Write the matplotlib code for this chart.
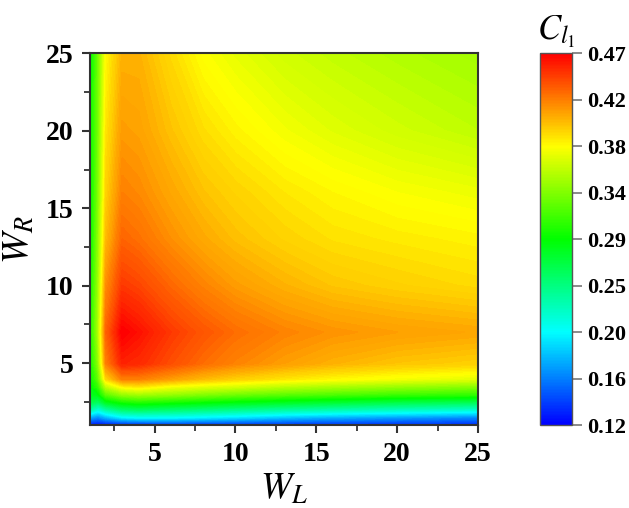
import numpy as np
import matplotlib
matplotlib.use('Agg')
import matplotlib.pyplot as plt
from matplotlib.colors import LinearSegmentedColormap, Normalize
from matplotlib.cm import ScalarMappable

plt.rcParams['font.family'] = 'serif'
plt.rcParams['font.serif'] = ['Liberation Serif', 'DejaVu Serif']
plt.rcParams['mathtext.fontset'] = 'stix'

# grid of widths
WL = [1, 1.5, 2, 3, 4, 6, 8, 10, 13, 16, 20, 25]
WR = [1, 1.5, 2, 2.5, 3, 3.5, 4, 5, 7, 10, 13, 16, 20, 25]

# C_l1 values, one row per W_R (columns follow W_L)
c_wr1   = [0.120, 0.120, 0.120, 0.123, 0.125, 0.127, 0.128, 0.128, 0.129, 0.130, 0.130, 0.130]
c_wr1_5 = [0.175, 0.165, 0.180, 0.200, 0.205, 0.205, 0.200, 0.195, 0.185, 0.178, 0.172, 0.165]
c_wr2   = [0.235, 0.215, 0.235, 0.255, 0.260, 0.255, 0.250, 0.245, 0.238, 0.232, 0.226, 0.220]
c_wr2_5 = [0.270, 0.260, 0.285, 0.300, 0.305, 0.300, 0.295, 0.290, 0.283, 0.277, 0.270, 0.265]
c_wr3   = [0.285, 0.290, 0.325, 0.345, 0.350, 0.345, 0.338, 0.332, 0.325, 0.320, 0.314, 0.310]
c_wr3_5 = [0.290, 0.310, 0.360, 0.385, 0.390, 0.378, 0.372, 0.367, 0.358, 0.352, 0.346, 0.340]
c_wr4   = [0.293, 0.325, 0.395, 0.425, 0.425, 0.415, 0.405, 0.398, 0.390, 0.384, 0.378, 0.372]
c_wr5   = [0.296, 0.340, 0.425, 0.458, 0.455, 0.443, 0.432, 0.424, 0.415, 0.408, 0.402, 0.398]
c_wr7   = [0.300, 0.350, 0.435, 0.470, 0.464, 0.450, 0.440, 0.432, 0.424, 0.419, 0.415, 0.412]
c_wr10  = [0.295, 0.345, 0.420, 0.450, 0.446, 0.434, 0.424, 0.416, 0.408, 0.402, 0.398, 0.394]
c_wr13  = [0.290, 0.340, 0.405, 0.435, 0.431, 0.420, 0.411, 0.404, 0.397, 0.392, 0.389, 0.386]
c_wr16  = [0.290, 0.335, 0.397, 0.425, 0.422, 0.412, 0.403, 0.397, 0.390, 0.385, 0.380, 0.376]
c_wr20  = [0.290, 0.332, 0.390, 0.416, 0.414, 0.403, 0.393, 0.386, 0.378, 0.372, 0.366, 0.360]
c_wr25  = [0.290, 0.330, 0.383, 0.408, 0.408, 0.394, 0.381, 0.374, 0.366, 0.361, 0.356, 0.351]

C = np.array([c_wr1, c_wr1_5, c_wr2, c_wr2_5, c_wr3, c_wr3_5, c_wr4, c_wr5,
              c_wr7, c_wr10, c_wr13, c_wr16, c_wr20, c_wr25])

cmin, cmax = 0.12, 0.47
cbar_labels = ['0.12', '0.16', '0.20', '0.25', '0.29', '0.34', '0.38', '0.42', '0.47']

cmap = LinearSegmentedColormap.from_list(
    'bcgyr', ['#0000ff', '#00ffff', '#00ff00', '#ffff00', '#ff0000'])
norm = Normalize(vmin=cmin, vmax=cmax)

fig = plt.figure(figsize=(6.29, 5.08), dpi=100)
ax = fig.add_axes([0.143, 0.163, 0.617, 0.732])
cax = fig.add_axes([0.859, 0.163, 0.05, 0.732])

X, Y = np.meshgrid(WL, WR)
levels = np.linspace(cmin, cmax, 141)
cf = ax.contourf(X, Y, np.clip(C, cmin, cmax), levels=levels, cmap=cmap, norm=norm)
cf.set_edgecolor('face')
cf.set_linewidth(0.6)

ax.set_xlim(1, 25)
ax.set_ylim(1, 25)
ax.set_xticks([5, 10, 15, 20, 25])
ax.set_yticks([5, 10, 15, 20, 25])
ax.set_xticks([2.5, 7.5, 12.5, 17.5, 22.5], minor=True)
ax.set_yticks([2.5, 7.5, 12.5, 17.5, 22.5], minor=True)
ax.tick_params(which='major', direction='out', length=6, width=1.5, color='#333333',
               labelsize=20, pad=6)
ax.tick_params(which='minor', direction='out', length=4, width=1.3, color='#333333')
for lab in ax.get_xticklabels() + ax.get_yticklabels():
    lab.set_fontweight('bold')
for sp in ax.spines.values():
    sp.set_linewidth(1.5)
    sp.set_color('#333333')

ax.set_xlabel(r'$W_L$', fontsize=27, labelpad=4)
ax.set_ylabel(r'$W_R$', fontsize=27, labelpad=6)

# smooth colour bar
cb = fig.colorbar(ScalarMappable(norm=norm, cmap=cmap), cax=cax,
                  ticks=np.linspace(cmin, cmax, len(cbar_labels)))
cb.ax.set_yticklabels(cbar_labels)
cb.ax.tick_params(length=7, width=1.2, color='#777777', labelsize=16, pad=4)
for lab in cb.ax.get_yticklabels():
    lab.set_fontweight('bold')
cb.outline.set_edgecolor('#555555')
cb.outline.set_linewidth(1.0)
cax.set_title(r'$C_{l_1}$', fontsize=25, pad=10)

fig.savefig('out.png', dpi=100)
